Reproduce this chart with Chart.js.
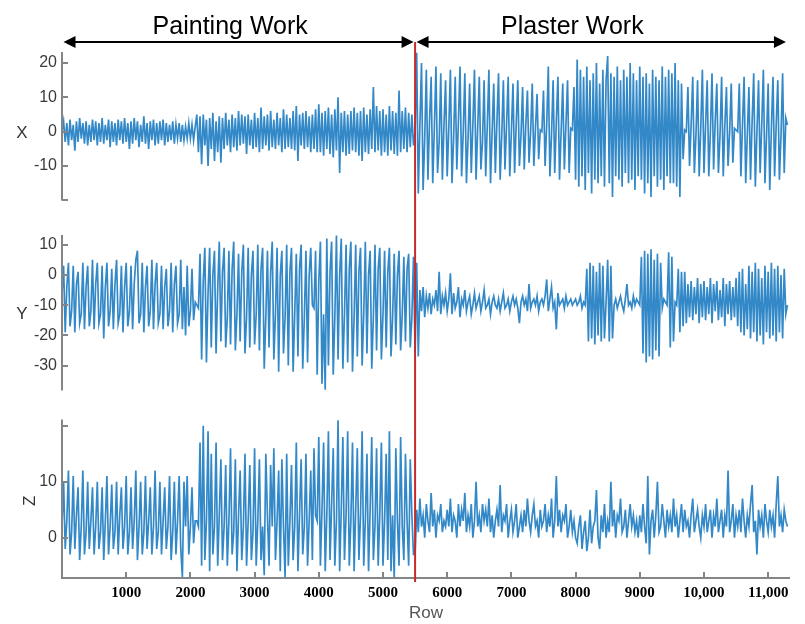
<!DOCTYPE html>
<html>
<head>
<meta charset="utf-8">
<title>Accelerometer X / Y / Z by row</title>
<script src="https://cdn.jsdelivr.net/npm/chart.js@4.4.1/dist/chart.umd.min.js"></script>
<style>
  html, body { margin: 0; padding: 0; background: #ffffff; }
  #wrap { position: relative; width: 805px; height: 624px; overflow: hidden; }
  #wrap canvas { position: absolute; left: 0; display: block; }
</style>
</head>
<body>
<div id="wrap">
  <canvas id="panelX" width="805" height="215" style="top:0px"></canvas>
  <canvas id="panelY" width="805" height="190" style="top:215px"></canvas>
  <canvas id="panelZ" width="805" height="219" style="top:405px"></canvas>
</div>
<script>
// ---- data -------------------------------------------------------------
// One sample every ROW_STEP rows, rows 0 .. 11300.
const ROW_STEP = 25;
const ROW_MAX = 11340;
const SPLIT_ROW = 5500;

const PHASE_LABELS = ['Painting Work', 'Plaster Work'];
const PHASE_BOUNDS = [[0, 5500], [5500, 11300]];

const ROW_TICKS = [1000, 2000, 3000, 4000, 5000, 6000, 7000, 8000, 9000, 10000, 11000];
const ROW_TICK_LABELS = ['1000', '2000', '3000', '4000', '5000', '6000', '7000', '8000', '9000', '10,000', '11,000'];

const X_TICKS = [-20, -10, 0, 10, 20];
const X_TICK_LABELS = ['', '-10', '0', '10', '20'];
const Y_TICKS = [-30, -20, -10, 0, 10];
const Y_TICK_LABELS = ['-30', '-20', '-10', '0', '10'];
const Z_TICKS = [0, 10, 20];
const Z_TICK_LABELS = ['0', '10', ''];

const X_SIGNAL = [
  0, 3, -3, 2.5, -4, 3.5, -2.5, 2, -5.5, 3, -3, 4, -2, 2.5, -3.5, 3, -4, 2, -3, 3.5,
  -2.5, 3, -4, 2.5, -3, 4, -3.5, 2, -2.5, 3.5, -4.5, 3, -3, 2.5, -4, 3.5, -2.5, 3, -3.5, 4,
  -3, 2.5, -5, 3, -3.5, 4, -2.5, 3, -4.5, 2, -3, 4.5, -3.5, 2.5, -5, 3, -2.5, 3.5, -4, 2.5,
  -3.5, 3, -2.5, 3.5, -4, 2.5, -3, 2, -2.5, 3, -3.5, 2, -2, 2.5, -3, 2, -2.5, 1.5, -2, 2.5,
  -2, 2, -2.5, 1.5, 5, -6, 4.5, -9.5, 5, -4, 3.5, -10, 4, -5, 5.5, -8.5, 3, -6, 4.5, -9,
  4, -5, 5.5, -4, 3.5, -6, 5, -4.5, 4, -5.5, 6, -4, 5, -3.5, 4.5, -6.5, 5, -4, 3.5, -5,
  5.5, -4.5, 4, -6, 7, -5, 4.5, -4, 5, -5.5, 6, -4.5, 3.5, -5, 5.5, -4, 4, -6, 6.5, -5,
  5, -4.5, 4, -5, 6, -5.5, 7.5, -8.5, 5, -4, 5.5, -5, 6, -4.5, 4.5, -6, 5, -5, 6.5, -6,
  8, -6, 5.5, -7, 6, -5, 7, -6.5, 5, -7.5, 6.5, -5.5, 10, -12, 5.5, -6, 6, -7, 5, -6.5,
  6, -5.5, 7, -6, 5.5, -7, 6, -8.5, 7, -6, 5, -6.5, 6.5, -5, 13, -6, 7.5, -5.5, 6, -7,
  6.5, -6, 5, -7, 7.5, -5.5, 6, -6.5, 5.5, -7, 12, -6, 6, -5, 7, -6, 5.5, -4.5, 5, -4,
  0, 23, -18, 2, 20, -17, -2, 18, -14, 3, 16, -15, 1, 19, -12, -3, 17, -14, 2, 15,
  -13, 1, 18, -15, -2, 16, -11, 3, 19, -13, 0, 17, -15, -2, 14, -12, 2, 18, -14, 1,
  16, -11, -3, 15, -13, 2, 18, -15, 0, 14, -12, 3, 17, -14, -1, 15, -11, 2, 16, -13,
  0, 14, -12, 2, 15, -10, -1, 13, -11, 2, 12, -9, 0, 14, -10, 1, 11, -8, 0.5, 0,
  12, -10, 2, 19, -13, -1, 15, -12, 3, 16, -14, 0, 14, -11, 2, 15, -12, 1, 0.5, 13,
  -14, 21, -16, 18, -13, 16, -17, 19, -12, 15, -18, 17, -14, 20, -15, 14, -13, 18, -16, 15,
  22, -15, 17, -19, 16, -13, 19, -14, 15, -16, 18, -12, 16, -15, 20, -14, 17, -17, 15, -13,
  19, -14, 16, -18, 17, -15, 14, -19, 18, -13, 16, -16, 15, -14, 19, -17, 16, -13, 18, -15,
  17, -15, 20, -16, 15, -19, 14, -8, 0.5, 0, 13, -10, 2, 16, -12, -1, 15, -13, 1, 18,
  -12, 2, 15, -13, 0, 17, -11, 3, 14, -12, -1, 16, -13, 2, 13, -10, 0, 14, -9, 1,
  0.5, 0, 14, -13, 2, 16, -15, -1, 13, -14, 3, 17, -16, 0, 15, -12, 2, 18, -15, -1,
  14, -17, 1, 16, -13, 2, 15, -14, -1, 17, -12, 4, 2
];

const Y_SIGNAL = [
  -6, 3, -19, -4, 4, -17, -12, 3, -19, -3, 1, -16, -13, 4, -18, -4, 3, -17, -12, 5,
  -18, -3, 4, -16, -13, 3, -21, -4, 4, -17, -12, 2, -18, -3, 5, -16, -13, 3, -19, -4,
  4, -17, -12, 3, -18, -3, 5, 8, -16, -13, 4, -19, -4, 3, -17, -12, 5, -18, -3, 4,
  -16, -13, 3, -18, -4, 2, -17, -12, 4, -19, -3, 3, -16, -13, 5, -18, -4, -20, 3, -17,
  -12, 2, -15, -9, -10, -11, 7, -28, -2, 9, -29, -6, 9, -24, 0, 8, -26, -5, 11, -22,
  1, 9, -24, -14, 8, -23, 2, 11, -25, -13, 7, -22, 1, 10, -26, -14, 9, -24, 0, 8,
  -23, -13, 10, -25, 2, 9, -31, -14, 8, -24, 1, 11, -28, -13, 9, -32, 0, 8, -26, -14,
  10, -30, 1, 9, -32, -13, 7, -27, 2, 10, -31, -14, 8, -29, 0, 9, -10, -11, 8, -33,
  -2, 11, -36, -13, -38, 12, -30, 1, 11, -33, -14, 13, -28, 0, 12, -31, -13, 10, -29, 2,
  11, -32, -14, 10, -27, 1, 9, -30, -13, 11, -26, 0, 8, -31, -14, 10, -25, 2, 9, -28,
  -13, 8, -24, 1, 9, -27, -14, 7, -23, 0, 8, -25, -13, 6, -22, 2, 7, -24, -14, 6,
  -26, 4, -27, -5, -12, -4, -14, -7, -11, -6, -13, -8, -10, -5, -12, 1, -13, -7, -10, -6,
  -12, -8, 0.5, -13, -6, -11, -9, -4, -14, -8, -10, -5, -12, -9, -7, -13, -10, -6, -11, -9,
  -7, -12, -9, -5, -11, -10, -8, -13, -9, -7, -10, -11, -8, -12, -9, -6, -11, -10, -8, -12,
  -9, -7, -10, -8, -11, -16, -9, -7, -10, -8, -12, -3, -11, -9, -8, -10, -7, -12, -9, -8,
  -10, -7, -1.5, -12, -8, -4, -11, -9, -18, -6, -10, -9, -8, -11, -7, -10, -9, -8, -10, -9,
  -8, -10, -9, -7, -11, -9, -10, 2, -22, 4, -21, 3, -23, 1, -20, 4, -22, 3, -21, -9,
  5, -22, 3, -21, -10, -8, -11, -9, -7, -10, -12, -8, -3, -10, -9, -11, -7, -10, -8, -9,
  -10, 6, -26, 8, -29, 7, -27, 8.5, -28, 5, -25, 7, -27, 4, -11, -8, -9, -10, 7.5, -24,
  6, -22, -9, -10, 2, -19, 1, -17, 1, -16, -3, -14, -2, -15, -4, -13, -1, -16, -3, -14,
  -2, -15, -4, -13, -1, -16, -3, -12, -2, -15, -5, -14, -1, -17, -3, -13, -2, -15, -4, -14,
  -1, -17, 1, -19, 2, -20, -3, -18, 3, -21, 1, -19, 4, -22, 2, -20, -1, -23, 3, -19,
  1, -21, 4, -20, 2, -22, 3, -19, 0, -21, 2, -13, -10
];

const Z_SIGNAL = [
  2, 10, -2, 3, 12, -3, 1, 11, -2, 4, 9, -4, 2, 12, -3, 1, 10, -2, 3, 9,
  -3, 2, 10, -2, 1, 9, -4, 3, 11, -3, 2, 9.5, -2, 1, 10, -3, 4, 9, -2, 2,
  11, -3, 1, 9, -2, 3, 12, -4, 2, 10, -3, 1, 11, -2, 3, 9, -3, 2, 12, -2,
  1, 10, -3, 3, 9, -2, 2, 11, -4, 1, 10, -3, 3, 11, -2, -7, 10, 2, 11, -3,
  2, 9, -1, 3, 3, 2, 17, -5, 20, -4, 3, 19, -6, 15, -3, 2, 17, -5, 4, 14,
  -4, 2, 13, -5, 3, 16, -3, 1, 14, -6, 4, 12, -4, 2, 15, -5, 3, 13, -4, 1,
  16, -5, 3, 14, -4, 2, -6.7, 15, 4, -5, 13, 2, 16, -4, 3, 12, -6, 14, 2, -7,
  15, -5, 3, 13, -4, 2, 17, -6, 4, 14, -3, 2, 15, -5, 3, 12, -4, 16, 4, 3,
  18, -5, 5, 17, -6, 4, 19, -4, 6, 16, -5, 3, 21, -6, 5, 18, -4, 4, 19, -5,
  3, 17, -6, 5, 16, -4, 4, 19, -5, 3, 15, -6, 5, 18, -4, 2, 16, -5, 4, 17,
  -5, 3, 15, -4, 19, -6, 4, -7.3, 16, 3, -5, 18, 2, -4, 15, 3, -5, 14, 4, -3,
  -3, 5, 1, 7, 2, 4, 0, 6, 3, 1, 8, 2, 5, 0, 4, 3, 6, 1, 3, 2,
  5, 2, 7, 1, 4, 3, 0, 6, 2, 5, 3, 8, 1, 4, 2, 6, 0, 3, 10, 2,
  4, 1, 6, 3, 5, 2, 7, 1, 4, 0, 3, 5, 2, 9.4, 1, 4, 3, 6, 0, 3,
  5, 1, 3, 6, 0, 2, 4, 1, 5, 2, 7, 3, 1, 4, 6, 2, 3, 0, 5, 2,
  3, 6, 1, 4, 2, 7, 0, 3, 11, 2, 5, 1, 4, 3, 6, 0, 2, 5, 1, 3,
  0, -1, 2, 4, -2, 1, 3, -2.4, 0, 5, -1, 2, 3, 8.5, 0, -2, 4, 1, 6, 0,
  3, 1, 10, 2, 5, 0, 4, 3, 7, 1, 2, 5, 0, 3, 6, 2, 4, 1, 3, 0,
  4, 1, 6, 2, -1, 11, -3, 3, 5, 0, 4, 10, 1, 2, 6, 3, 0, 5, 2, 4,
  1, 7, 2, 4, 0, 3, 6, 1, 5, 2, 3, 0, 4, 7, 1, 3, 5, 2, 0, 4,
  2, 6, 1, 3, 5, 0, 4, 2, 7, 1, 3, 5, 0, 4, 2, 12, 1, 3, 6, 0,
  4, 2, 5, 1, 7, 3, 0, 4, 2, 6, 9.4, 1, 3, -3, 5, 2, 4, 0, 6, 3,
  1, 5, 2, 4, 0, 6, 11, 2, 4, 1, 5, 3, 2
];

// ---- styling ----------------------------------------------------------
const LINE_COLOR = 'rgba(0, 108, 186, 0.8)';
const LINE_WIDTH = 1.7;
const AXIS_COLOR = '#858585';
const SPLIT_COLOR = '#c62a2a';
const SANS = '"Liberation Sans", Arial, sans-serif';
const SERIF = '"Liberation Serif", "Times New Roman", serif';
const AXIS_GUTTER = 62;   // width reserved for the value axis
const TICK_LEN = 6;
const ARROW_Y = 42;
// rows at which the two phase captions are centred
const PHASE_CAPTION_ROWS = [2620, 7950];

// ---- plugins ----------------------------------------------------------
// Axis line with inward ticks, channel name, and the phase split marker.
const framePlugin = {
  id: 'frame',
  afterDatasetsDraw(chart, _args, opts) {
    const { ctx, chartArea: a, scales } = chart;
    const xs = scales.x, ys = scales.y;
    ctx.save();
    ctx.strokeStyle = AXIS_COLOR;
    ctx.lineWidth = 2;
    ctx.beginPath();
    ctx.moveTo(a.left, a.top);
    ctx.lineTo(a.left, a.bottom + (opts.baseAxis ? 1 : 0));
    opts.ticks.forEach(v => {
      const py = Math.round(ys.getPixelForValue(v));
      ctx.moveTo(a.left, py);
      ctx.lineTo(a.left + TICK_LEN, py);
    });
    if (opts.baseAxis) {
      ctx.moveTo(a.left - 1, a.bottom);
      ctx.lineTo(a.right, a.bottom);
      ROW_TICKS.forEach(v => {
        const px = Math.round(xs.getPixelForValue(v));
        ctx.moveTo(px, a.bottom);
        ctx.lineTo(px, a.bottom - TICK_LEN);
      });
    }
    ctx.stroke();

    // channel name
    ctx.fillStyle = '#333333';
    ctx.font = '17px ' + SANS;
    ctx.textAlign = 'center';
    ctx.textBaseline = 'middle';
    const cy = (a.top + a.bottom) / 2 + (opts.nameShift || 0);
    if (opts.rotateName) {
      ctx.save();
      ctx.translate(opts.nameX, cy);
      ctx.rotate(-Math.PI / 2);
      ctx.fillText(opts.name, 0, 0);
      ctx.restore();
    } else {
      ctx.fillText(opts.name, opts.nameX, cy);
    }

    // split between the two work phases
    const sx = xs.getPixelForValue(SPLIT_ROW);
    ctx.strokeStyle = SPLIT_COLOR;
    ctx.lineWidth = 2;
    ctx.beginPath();
    ctx.moveTo(sx, opts.splitTop === 'arrow' ? ARROW_Y : 0);
    ctx.lineTo(sx, opts.splitBottom === 'axis' ? a.bottom + 4 : chart.height);
    ctx.stroke();
    ctx.restore();
  }
};

// Double-headed arrows with captions over the top panel.
const phasePlugin = {
  id: 'phases',
  afterDraw(chart, _args, opts) {
    if (!opts.show) return;
    const { ctx, scales: { x: xs } } = chart;
    ctx.save();
    ctx.fillStyle = '#000';
    ctx.strokeStyle = '#000';
    ctx.lineWidth = 2;
    const head = 12, half = 6, inset = 1.5;
    PHASE_BOUNDS.forEach(([from, to], i) => {
      const x0 = xs.getPixelForValue(from) + inset;
      const x1 = xs.getPixelForValue(to) - inset;
      ctx.beginPath();
      ctx.moveTo(x0 + head - 2, ARROW_Y);
      ctx.lineTo(x1 - head + 2, ARROW_Y);
      ctx.stroke();
      ctx.beginPath();
      ctx.moveTo(x0, ARROW_Y);
      ctx.lineTo(x0 + head, ARROW_Y - half);
      ctx.lineTo(x0 + head, ARROW_Y + half);
      ctx.closePath();
      ctx.fill();
      ctx.beginPath();
      ctx.moveTo(x1, ARROW_Y);
      ctx.lineTo(x1 - head, ARROW_Y - half);
      ctx.lineTo(x1 - head, ARROW_Y + half);
      ctx.closePath();
      ctx.fill();
      ctx.font = '25px ' + SANS;
      ctx.textAlign = 'center';
      ctx.textBaseline = 'alphabetic';
      ctx.fillText(PHASE_LABELS[i], xs.getPixelForValue(PHASE_CAPTION_ROWS[i]), 34);
    });
    ctx.restore();
  }
};

// ---- panels -----------------------------------------------------------
function makePanel(id, values, cfg) {
  const points = values.map((v, i) => ({ x: i * ROW_STEP, y: v }));
  const xScale = cfg.baseAxis ? {
    type: 'linear', min: 0, max: ROW_MAX,
    afterBuildTicks: s => { s.ticks = ROW_TICKS.map(v => ({ value: v })); },
    afterFit: s => { s.height = 46; },
    grid: { display: false, drawTicks: false },
    border: { display: false },
    ticks: {
      autoSkip: false, maxRotation: 0, padding: 6, color: '#000',
      font: { family: SERIF, size: 15, weight: 'bold' },
      callback: (v, i) => ROW_TICK_LABELS[i]
    },
    title: {
      display: true, text: 'Row', color: '#555555',
      font: { family: SANS, size: 17 }, padding: { top: 0, bottom: 0 }
    }
  } : { type: 'linear', min: 0, max: ROW_MAX, display: false };

  return new Chart(document.getElementById(id), {
    type: 'line',
    data: {
      datasets: [{
        data: points,
        borderColor: LINE_COLOR,
        borderWidth: LINE_WIDTH,
        borderJoinStyle: 'miter',
        pointRadius: 0,
        tension: 0,
        fill: false
      }]
    },
    options: {
      responsive: false,
      animation: false,
      events: [],
      layout: { padding: cfg.padding },
      plugins: {
        legend: { display: false },
        tooltip: { enabled: false },
        frame: cfg.frame,
        phases: { show: !!cfg.phases }
      },
      scales: {
        x: xScale,
        y: {
          type: 'linear', min: cfg.min, max: cfg.max,
          afterBuildTicks: s => { s.ticks = cfg.ticks.map(v => ({ value: v })); },
          afterFit: s => { s.width = AXIS_GUTTER; },
          grid: { display: false, drawTicks: false },
          border: { display: false },
          ticks: {
            padding: 5, color: '#3a3a3a',
            font: { family: SANS, size: 16 },
            callback: (v, i) => cfg.labels[i]
          }
        }
      }
    },
    plugins: [framePlugin, phasePlugin]
  });
}

makePanel('panelX', X_SIGNAL, {
  min: -20, max: 23.2, ticks: X_TICKS, labels: X_TICK_LABELS,
  padding: { top: 52, right: 15, bottom: 7, left: 0 },
  phases: true,
  frame: { ticks: X_TICKS, name: 'X', nameX: 22, nameShift: 7, splitTop: 'arrow' }
});

makePanel('panelY', Y_SIGNAL, {
  min: -38.2, max: 13.2, ticks: Y_TICKS, labels: Y_TICK_LABELS,
  padding: { top: 20, right: 15, bottom: 7, left: 0 },
  frame: { ticks: Y_TICKS, name: 'Y', nameX: 22, nameShift: 2 }
});

makePanel('panelZ', Z_SIGNAL, {
  min: -7.2, max: 21.1, ticks: Z_TICKS, labels: Z_TICK_LABELS,
  padding: { top: 12, right: 15, bottom: 0, left: 0 },
  baseAxis: true,
  frame: { ticks: Z_TICKS, name: 'Z', nameX: 30, nameShift: 2, rotateName: true, baseAxis: true, splitBottom: 'axis' }
});
</script>
</body>
</html>
